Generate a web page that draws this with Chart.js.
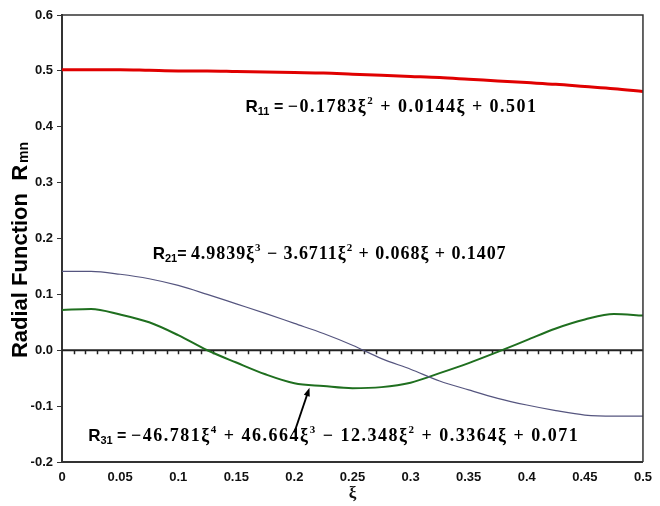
<!DOCTYPE html>
<html>
<head>
<meta charset="utf-8">
<script src="https://cdn.jsdelivr.net/npm/chart.js@4.4.0/dist/chart.umd.min.js"></script>
<style>
  body { margin: 0; background: #fff; }
  #wrap { width: 660px; height: 506px; }
</style>
</head>
<body>
<div id="wrap"><canvas id="myChart"></canvas></div>
<script>
// radial coordinate
const xi = [0, 0.025, 0.05, 0.075, 0.1, 0.125, 0.15, 0.175, 0.2, 0.225, 0.25,
            0.275, 0.3, 0.325, 0.35, 0.375, 0.4, 0.425, 0.45, 0.475, 0.5];

// radial functions R11, R21, R31
const r11 = [0.502, 0.502, 0.502, 0.501, 0.500, 0.500, 0.499, 0.498, 0.497, 0.496, 0.494,
             0.492, 0.490, 0.488, 0.485, 0.482, 0.479, 0.476, 0.472, 0.468, 0.463];
const r21 = [0.141, 0.141, 0.136, 0.128, 0.116, 0.100, 0.083, 0.066, 0.048, 0.030, 0.009,
             -0.015, -0.034, -0.055, -0.071, -0.086, -0.098, -0.108, -0.116, -0.118, -0.118];
const r31 = [0.072, 0.074, 0.064, 0.050, 0.027, 0.000, -0.022, -0.043, -0.059, -0.064, -0.068,
             -0.066, -0.058, -0.041, -0.023, -0.003, 0.018, 0.039, 0.055, 0.065, 0.062];

const xTickLabels = ['0', '0.05', '0.1', '0.15', '0.2', '0.25', '0.3', '0.35', '0.4', '0.45', '0.5'];
const yTickLabels = ['-0.2', '-0.1', '0.0', '0.1', '0.2', '0.3', '0.4', '0.5', '0.6'];

const sans = '"Liberation Sans", Arial, sans-serif';
const serif = '"Liberation Serif", "Times New Roman", serif';

// fitted polynomials written next to the curves
const fits = [
  { x: 0.158, y: 0.427, width: 292, name: '11', eq: ' = ', parts: [
    ['\u22120.1783\u03BE'], ['2', 1], [' + 0.0144\u03BE + 0.501'] ] },
  { x: 0.078, y: 0.163, width: 354, name: '21', eq: '= ', parts: [
    ['4.9839\u03BE'], ['3', 1], [' \u2212 3.6711\u03BE'], ['2', 1], [' + 0.068\u03BE + 0.1407'] ] },
  { x: 0.0225, y: -0.1625, width: 491, name: '31', eq: ' = ', parts: [
    ['\u221246.781\u03BE'], ['4', 1], [' + 46.664\u03BE'], ['3', 1], [' \u2212 12.348\u03BE'], ['2', 1],
    [' + 0.3364\u03BE + 0.071'] ] }
];

const toPoints = ys => ys.map((v, i) => ({ x: xi[i], y: v }));

function drawFit(ctx, f, px, py) {
  const bold = n => 'bold ' + n + 'px ' + sans;
  // label part: R with subscript and equals sign
  const head = [
    { t: 'R', font: bold(17), dy: 0 },
    { t: f.name, font: bold(11), dy: 3 },
    { t: f.eq, font: bold(16), dy: 0 }
  ];
  const tail = f.parts.map(p => ({
    t: p[0], font: p[1] ? 'bold 11px ' + serif : 'bold 18px ' + serif, dy: p[1] ? -8 : 0
  }));
  ctx.letterSpacing = '0px';
  let x = px;
  head.forEach(h => {
    ctx.font = h.font;
    ctx.fillText(h.t, x, py + h.dy);
    x += ctx.measureText(h.t).width;
  });
  // spread the formula so it ends where it should
  let natural = 0;
  tail.forEach(s => { ctx.font = s.font; natural += ctx.measureText(s.t).width; });
  const chars = tail.reduce((n, s) => n + s.t.length, 0);
  const spacing = Math.max(0, (f.width - (x - px) - natural) / chars);
  ctx.letterSpacing = spacing.toFixed(2) + 'px';
  tail.forEach(s => {
    ctx.font = s.font;
    ctx.fillText(s.t, x, py + s.dy);
    x += ctx.measureText(s.t).width;
  });
  ctx.letterSpacing = '0px';
}

const extras = {
  id: 'extras',
  beforeDatasetsDraw(chart) {
    const { ctx, chartArea: a, scales: { x, y } } = chart;
    const y0 = y.getPixelForValue(0);
    ctx.save();
    ctx.strokeStyle = '#222';
    ctx.lineWidth = 2;
    ctx.beginPath();
    ctx.moveTo(a.left, y0);
    ctx.lineTo(a.right, y0);
    ctx.stroke();
    // minor ticks hanging under the zero line
    ctx.lineWidth = 1.5;
    for (let k = 1; k < 50; k++) {
      const px = Math.round(x.getPixelForValue(k / 100)) + 0.5;
      ctx.beginPath();
      ctx.moveTo(px, y0);
      ctx.lineTo(px, y0 + 4);
      ctx.stroke();
    }
    ctx.restore();
  },
  afterDatasetsDraw(chart) {
    const { ctx, chartArea: a, scales: { x, y } } = chart;
    ctx.save();
    // top and right edges of the plot frame
    ctx.strokeStyle = '#333';
    ctx.lineWidth = 1.5;
    ctx.beginPath();
    ctx.moveTo(a.left, a.top);
    ctx.lineTo(a.right, a.top);
    ctx.lineTo(a.right, a.bottom);
    ctx.stroke();

    ctx.fillStyle = '#000';
    ctx.textBaseline = 'alphabetic';
    ctx.textAlign = 'left';
    fits.forEach(f => drawFit(ctx, f, x.getPixelForValue(f.x), y.getPixelForValue(f.y)));

    // arrow pointing at the R31 curve
    const x1 = x.getPixelForValue(0.2), y1 = y.getPixelForValue(-0.147);
    const x2 = x.getPixelForValue(0.213), y2 = y.getPixelForValue(-0.067);
    const ang = Math.atan2(y2 - y1, x2 - x1);
    ctx.strokeStyle = '#000';
    ctx.lineWidth = 1.8;
    ctx.beginPath();
    ctx.moveTo(x1, y1);
    ctx.lineTo(x2 - 6 * Math.cos(ang), y2 - 6 * Math.sin(ang));
    ctx.stroke();
    ctx.beginPath();
    ctx.moveTo(x2, y2);
    ctx.lineTo(x2 - 9 * Math.cos(ang - 0.35), y2 - 9 * Math.sin(ang - 0.35));
    ctx.lineTo(x2 - 9 * Math.cos(ang + 0.35), y2 - 9 * Math.sin(ang + 0.35));
    ctx.closePath();
    ctx.fill();

    // y axis title with subscript
    ctx.translate(21, 250);
    ctx.rotate(-Math.PI / 2);
    const main = 'Radial Function  R';
    const sub = 'mn';
    ctx.font = 'bold 14px ' + sans;
    const subW = ctx.measureText(sub).width;
    ctx.font = 'bold 22px ' + sans;
    const mainW = ctx.measureText(main).width;
    const start = -(mainW + subW + 2) / 2;
    ctx.textBaseline = 'middle';
    ctx.fillText(main, start, 0);
    ctx.font = 'bold 14px ' + sans;
    ctx.fillText(sub, start + mainW + 2, 3);
    ctx.restore();
  }
};

const ctx = document.getElementById('myChart').getContext('2d');

const chart = new Chart(ctx, {
  type: 'line',
  data: {
    datasets: [
      { label: 'R11', data: toPoints(r11), borderColor: '#e00000', borderWidth: 3 },
      { label: 'R21', data: toPoints(r21), borderColor: '#55557f', borderWidth: 1.2 },
      { label: 'R31', data: toPoints(r31), borderColor: '#1f6f1f', borderWidth: 2 }
    ]
  },
  options: {
    responsive: true,
    maintainAspectRatio: false,
    animation: false,
    layout: { padding: { top: 15, right: 9, left: 0, bottom: 0 } },
    elements: {
      point: { radius: 0 },
      line: { cubicInterpolationMode: 'monotone', fill: false }
    },
    plugins: {
      legend: { display: false },
      tooltip: { enabled: false }
    },
    scales: {
      x: {
        type: 'linear',
        min: 0,
        max: 0.5,
        afterFit: s => { s.height = 44; },
        ticks: {
          stepSize: 0.05,
          padding: 8,
          color: '#111',
          font: { family: sans, size: 13, weight: 'bold' },
          callback: (v, i) => xTickLabels[i]
        },
        grid: { drawOnChartArea: false, drawTicks: false },
        border: { color: '#333', width: 2 },
        title: {
          display: true,
          text: '\u03BE',
          color: '#111',
          font: { family: serif, size: 17, weight: 'bold' },
          padding: { top: 0, bottom: 2 }
        }
      },
      y: {
        min: -0.2,
        max: 0.6,
        afterFit: s => { s.width = 62; },
        ticks: {
          stepSize: 0.1,
          padding: 4,
          color: '#111',
          font: { family: sans, size: 13, weight: 'bold' },
          callback: (v, i) => yTickLabels[i]
        },
        grid: { drawOnChartArea: false, tickLength: 5, color: '#333' },
        border: { color: '#333', width: 2 }
      }
    }
  },
  plugins: [extras]
});
</script>
</body>
</html>
